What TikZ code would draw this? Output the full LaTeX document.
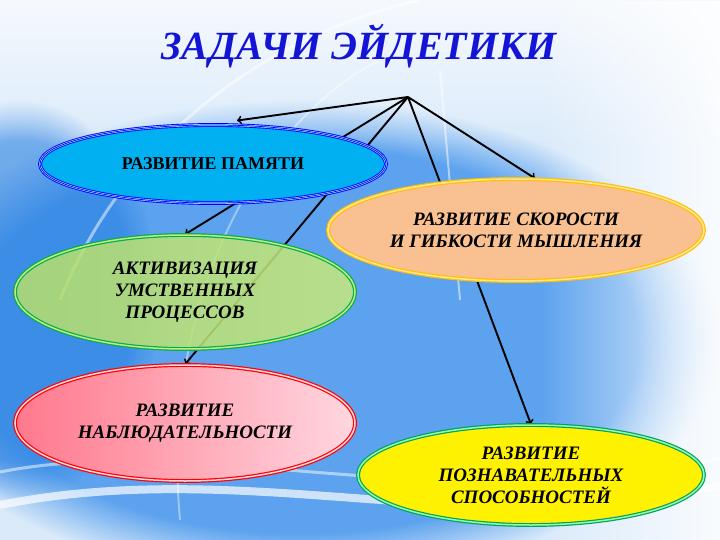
\documentclass[tikz,border=0pt]{standalone}
\usepackage{fontspec}
\setmainfont{Liberation Serif}
\usepackage{tikz}
\usetikzlibrary{shapes.geometric, fadings, backgrounds}

\definecolor{titleblue}{RGB}{20,20,215}
\definecolor{bglight}{RGB}{218,234,250}
\definecolor{bgblue}{RGB}{70,150,236}
\definecolor{bgdeep}{RGB}{40,128,226}
\definecolor{memfill}{RGB}{0,176,240}
\definecolor{speedfill}{RGB}{249,192,145}
\definecolor{speedline}{RGB}{255,192,0}
\definecolor{procleft}{RGB}{182,222,108}
\definecolor{procright}{RGB}{198,232,124}
\definecolor{procline}{RGB}{0,176,80}
\definecolor{obsleft}{RGB}{255,120,140}
\definecolor{obsright}{RGB}{255,215,224}
\definecolor{cogline}{RGB}{0,160,110}

\pgfdeclarelayer{bg}
\pgfdeclarelayer{lines}
\pgfsetlayers{bg,lines,main}

\begin{document}
\begin{tikzpicture}[x=1pt, y=-1pt,
        oval/.style={ellipse, inner sep=0pt, align=center, text=black,
                text opacity=1, font=\fontsize{19}{22}\selectfont\bfseries\itshape},
        link/.style={draw=black, line width=1.9pt, ->}]
        \useasboundingbox (0,0) rectangle (720,540);

        % Slide background
        \begin{pgfonlayer}{bg}
        \fill[bglight] (0,0) rectangle (720,540);
        \fill[bgblue, path fading=circle with fuzzy edge 20 percent, fill opacity=0.85]
                (300,340) ellipse [x radius=420, y radius=240];
        \fill[bgdeep, path fading=circle with fuzzy edge 20 percent, fill opacity=0.6]
                (20,300) ellipse [x radius=140, y radius=200];
        \fill[white, path fading=south, fill opacity=0.75] (0,0) rectangle (720,150);
        \fill[white, path fading=west, fill opacity=0.85] (540,0) rectangle (720,540);
        \draw[white, opacity=0.7, line width=8pt] (0,505) .. controls (250,455) and (480,545) .. (720,485);
        \draw[white, opacity=0.5, line width=3pt] (0,472) .. controls (200,432) and (460,522) .. (720,458);
        \draw[white, opacity=0.5, line width=3pt] (60,300) .. controls (120,150) and (250,40) .. (420,0);
        \draw[white, opacity=0.4, line width=2pt] (180,520) .. controls (160,300) and (260,120) .. (380,60);
        \draw[white, opacity=0.5, line width=2pt] (440,70) -- (460,300);
        \end{pgfonlayer}

        \node[font=\fontsize{40}{42}\selectfont\bfseries\itshape, text=titleblue]
                (title) at (359,46) {ЗАДАЧИ ЭЙДЕТИКИ};

        \node[oval, minimum width=346, minimum height=78, fill=memfill,
                draw=blue, double=memfill!40, double distance=2pt, line width=0.9pt,
                postaction={draw=blue, line width=0.7pt},
                font=\fontsize{18}{20}\selectfont\bfseries]
                (memory) at (213,164) {РАЗВИТИЕ ПАМЯТИ};

        \node[oval, minimum width=376, minimum height=102, fill=speedfill,
                draw=speedline, double=speedline!40, double distance=1.5pt, line width=1.2pt]
                (speed) at (516,230) {РАЗВИТИЕ СКОРОСТИ\\И ГИБКОСТИ МЫШЛЕНИЯ};

        \node[oval, minimum width=340, minimum height=114, left color=procleft,
                right color=procright, fill opacity=0.86,
                draw=procline, double=procright, double distance=1.5pt, line width=1.2pt]
                (processes) at (185,292) {АКТИВИЗАЦИЯ\\УМСТВЕННЫХ\\ПРОЦЕССОВ};

        \node[oval, minimum width=340, minimum height=116, left color=obsleft,
                right color=obsright,
                draw=red, double=obsright, double distance=1.5pt, line width=1.2pt]
                (observation) at (185,423) {РАЗВИТИЕ\\НАБЛЮДАТЕЛЬНОСТИ};

        \node[oval, minimum width=346, minimum height=100, fill=yellow,
                draw=cogline, double=green!40, double distance=1.5pt, line width=1.2pt]
                (cognition) at (531,475) {РАЗВИТИЕ\\ПОЗНАВАТЕЛЬНЫХ\\СПОСОБНОСТЕЙ};

        % Hub of the arrows
        \coordinate (hub) at (408,97);

        \begin{pgfonlayer}{lines}
        \draw[link] (hub) -- ([shift={(24,-4)}]memory.north);
        \draw[link] (hub) -- ([xshift=19pt]speed.north);
        \draw[link] (hub) -- (processes.north);
        \draw[link] (hub) -- (observation.north);
        \draw[link] (hub) -- (cognition.north);
        \end{pgfonlayer}
\end{tikzpicture}
\end{document}
